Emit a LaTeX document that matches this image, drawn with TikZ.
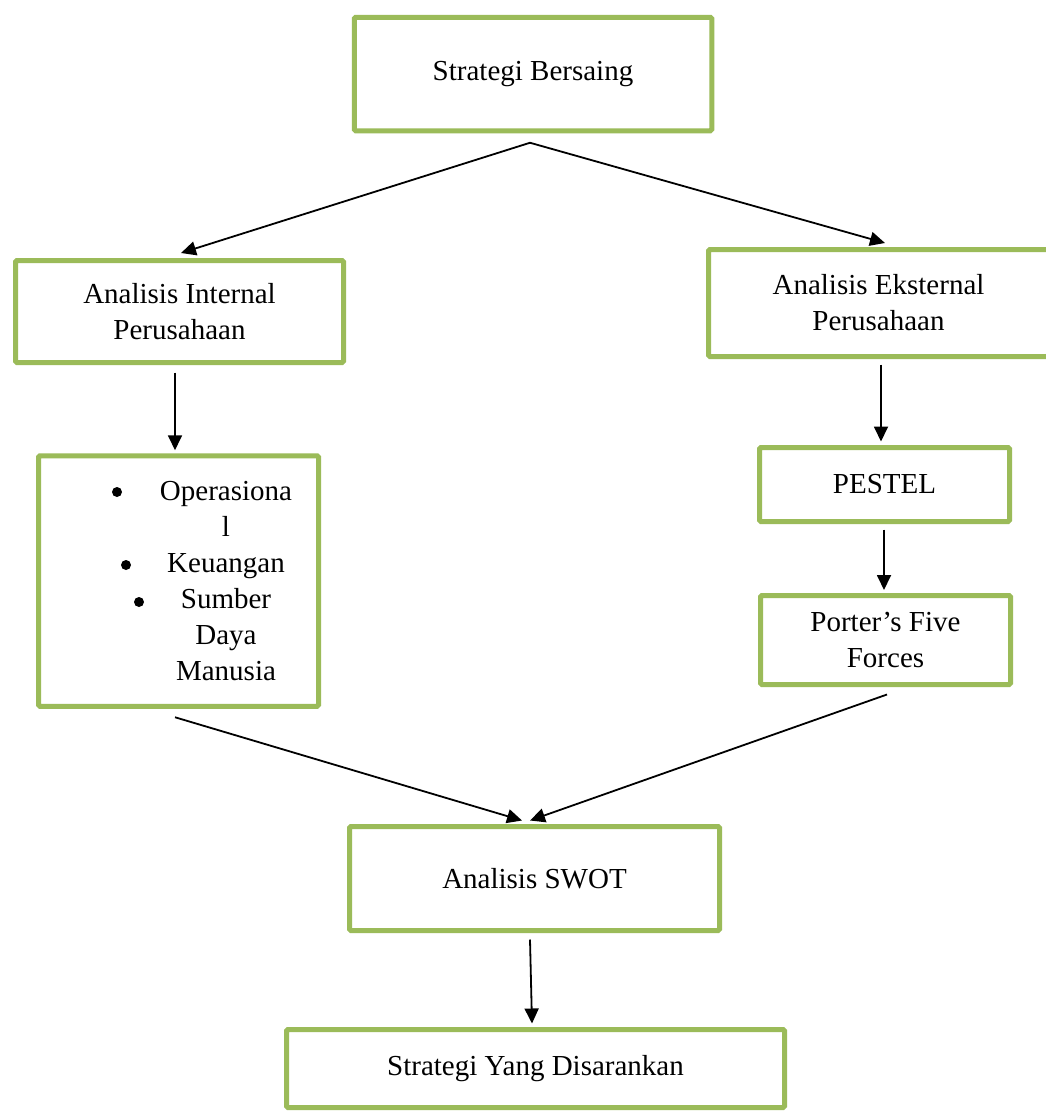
\documentclass[tikz,border=0pt]{standalone}
\usepackage{fontspec}
\setmainfont{Liberation Serif}
\usetikzlibrary{arrows.meta}
\definecolor{boxgreen}{HTML}{9BBB59}
\begin{document}
\begin{tikzpicture}[x=1pt,y=-1pt,
  flowbox/.style={draw=boxgreen, line width=5pt, rounded corners=1.5pt, fill=white,
    align=center, inner sep=0pt, font=\fontsize{29}{36}\selectfont},
  txt/.style={align=center, inner sep=0pt, font=\fontsize{29}{36}\selectfont},
  arr/.style={line width=1.8pt, -{Triangle[length=15pt,width=14pt]}}
]
\useasboundingbox (0,0) rectangle (1046,1120);
\clip (0,0) rectangle (1046,1120);
\fill[white] (0,0) rectangle (1046,1120);

% boxes
\node[flowbox, minimum width=357.5pt, minimum height=113.5pt] (sb) at (533,74) {Strategi Bersaing};
\node[flowbox, minimum width=328pt, minimum height=102pt] (ai) at (179.5,311.5) {Analisis Internal\\Perusahaan};
\node[flowbox, minimum width=340pt, minimum height=107pt] (ae) at (878.5,303) {Analisis Eksternal\\Perusahaan};
\node[flowbox, minimum width=280pt, minimum height=250.5pt] (bl) at (178.5,581) {};
\node[txt] (bltext) at (226,581) {Operasiona\\l\\Keuangan\\Sumber\\Daya\\Manusia};
\fill (117,492) circle (5pt);
\fill (126,565) circle (5pt);
\fill (139,602) circle (5pt);
\node[flowbox, minimum width=250pt, minimum height=74pt] (pe) at (884.5,484.5) {PESTEL};
\node[flowbox, minimum width=250pt, minimum height=89pt] (po) at (885.5,640) {Porter’s Five\\Forces};
\node[flowbox, minimum width=370pt, minimum height=104pt] (sw) at (534.5,878.5) {Analisis SWOT};
\node[flowbox, minimum width=498pt, minimum height=78pt] (sy) at (535.5,1068.5) {Strategi Yang Disarankan};

% connectors
\coordinate (top) at ([xshift=-3pt,yshift=-9.5pt]sb.south);
\draw[arr] (top) -- ([xshift=1.5pt,yshift=5pt]ai.north);
\draw[arr] (top) -- ([xshift=6.5pt,yshift=4pt]ae.north);
\draw[arr] ([xshift=-4.5pt,yshift=-7.5pt]ai.south) -- ([xshift=-3.5pt,yshift=3pt]bl.north);
\draw[arr] ([xshift=2.5pt,yshift=-5.5pt]ae.south) -- ([xshift=-3.5pt,yshift=3.5pt]pe.north);
\draw[arr] ([xshift=-0.5pt,yshift=-5.5pt]pe.south) -- ([xshift=-1.5pt,yshift=3pt]po.north);
\draw[arr] ([xshift=-3.5pt,yshift=-8.5pt]bl.south) -- ([xshift=-12.5pt,yshift=3.5pt]sw.north);
\draw[arr] ([xshift=1.5pt,yshift=-7.5pt]po.south) -- ([xshift=-4.5pt,yshift=3.5pt]sw.north);
\draw[arr] ([xshift=-4.5pt,yshift=-6.5pt]sw.south) -- ([xshift=-3.5pt,yshift=3.5pt]sy.north);
\end{tikzpicture}
\end{document}
